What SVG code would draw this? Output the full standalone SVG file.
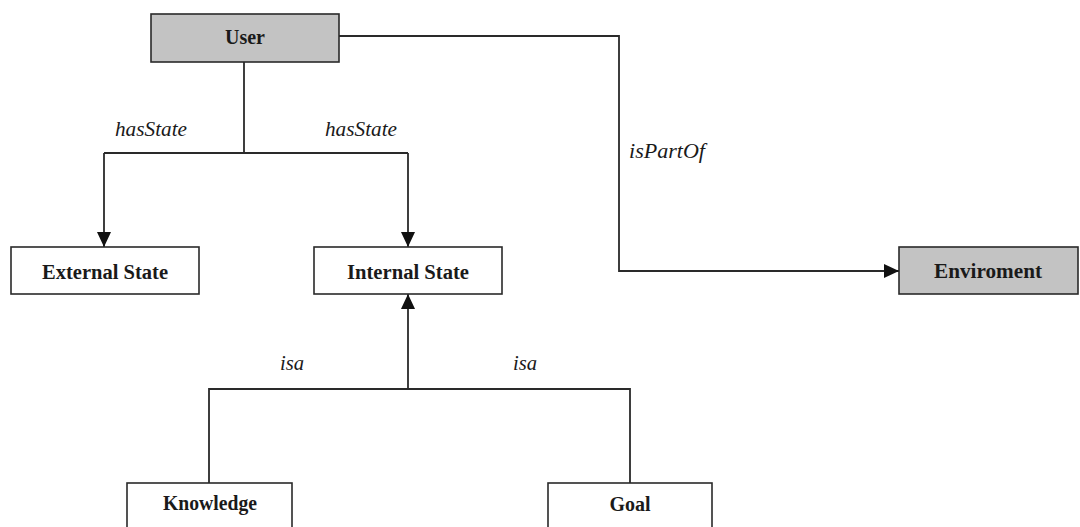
<svg xmlns="http://www.w3.org/2000/svg" width="1080" height="527" viewBox="0 0 1080 527">
  <defs>
    <marker id="arrow" markerWidth="15" markerHeight="14" refX="15" refY="7" orient="auto" markerUnits="userSpaceOnUse">
      <path d="M0,0 L15,7 L0,14 Z" fill="#111"/>
    </marker>
    <style>
      .box { fill: #ffffff; stroke: #2a2a2a; stroke-width: 1.6; }
      .box.grey { fill: #c3c3c3; }
      .name { font-family: "Liberation Serif", "Times New Roman", serif; font-weight: bold; font-size: 20px; fill: #1a1a1a; text-anchor: middle; }
      .rel { font-family: "Liberation Serif", "Times New Roman", serif; font-style: italic; font-size: 20px; fill: #1a1a1a; }
      .edge { fill: none; stroke: #2a2a2a; stroke-width: 1.8; }
    </style>
  </defs>
  <rect width="1080" height="527" fill="#ffffff"/>

  <!-- connectors -->
  <g id="connectors">
    <path class="edge" d="M244,62 V153"/>
    <path class="edge" d="M104,153 H408"/>
    <path class="edge" d="M104,153 V247" marker-end="url(#arrow)"/>
    <path class="edge" d="M408,153 V247" marker-end="url(#arrow)"/>
    <path class="edge" d="M339,36 H619 V271 H899" marker-end="url(#arrow)"/>
    <path class="edge" d="M209,483 V389 H630 V483"/>
    <path class="edge" d="M408,389 V294" marker-end="url(#arrow)"/>
    <text class="rel" x="115" y="136" textLength="72" lengthAdjust="spacingAndGlyphs">hasState</text>
    <text class="rel" x="325" y="136" textLength="72" lengthAdjust="spacingAndGlyphs">hasState</text>
    <text class="rel" x="629" y="158" textLength="76" lengthAdjust="spacingAndGlyphs">isPartOf</text>
    <text class="rel" x="280" y="370" textLength="24" lengthAdjust="spacingAndGlyphs">isa</text>
    <text class="rel" x="513" y="370" textLength="24" lengthAdjust="spacingAndGlyphs">isa</text>
  </g>

  <g id="user">
    <rect class="box grey" x="151" y="14" width="188" height="48"/>
    <text class="name" x="245" y="44">User</text>
  </g>
  <g id="external-state">
    <rect class="box" x="11" y="247" width="188" height="47"/>
    <text class="name" x="105" y="279" textLength="126" lengthAdjust="spacingAndGlyphs">External State</text>
  </g>
  <g id="internal-state">
    <rect class="box" x="314" y="247" width="188" height="47"/>
    <text class="name" x="408" y="279" textLength="122" lengthAdjust="spacingAndGlyphs">Internal State</text>
  </g>
  <g id="enviroment">
    <rect class="box grey" x="899" y="247" width="179" height="47"/>
    <text class="name" x="988" y="278" textLength="108" lengthAdjust="spacingAndGlyphs">Enviroment</text>
  </g>
  <g id="knowledge">
    <rect class="box" x="127" y="483" width="165" height="60"/>
    <text class="name" x="210" y="510" textLength="94" lengthAdjust="spacingAndGlyphs">Knowledge</text>
  </g>
  <g id="goal">
    <rect class="box" x="548" y="483" width="164" height="60"/>
    <text class="name" x="630" y="511">Goal</text>
  </g>
</svg>
